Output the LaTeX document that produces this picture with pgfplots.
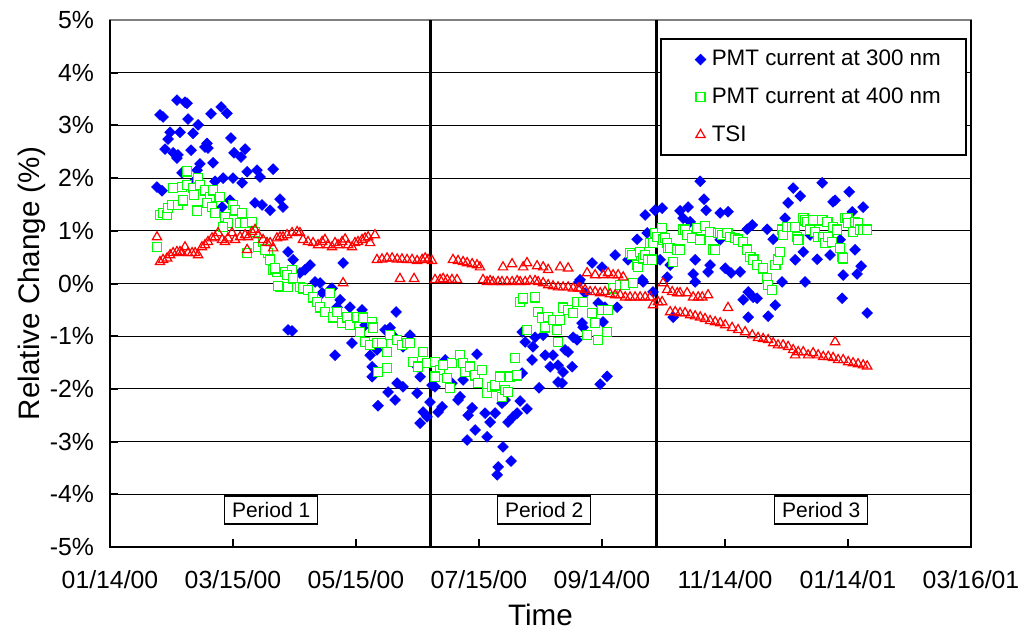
\documentclass[border=0pt]{standalone}
\usepackage{pgfplots}
\pgfplotsset{compat=1.18}
\usepackage{fontspec}
\setmainfont{Liberation Sans}

% x = days since 01/14/00, y = relative change in %
\pgfplotstableread{
x y
33.2 3.48
37.2 3.44
38.2 3.42
24.8 3.20
26.3 3.16
38.7 3.12
55.1 3.35
58.0 3.23
50.1 3.22
43.7 3.01
29.8 2.87
28.8 2.74
34.7 2.87
41.2 2.85
60.0 2.76
48.1 2.66
48.6 2.57
47.1 2.59
27.3 2.55
31.3 2.48
33.7 2.44
33.2 2.38
40.2 2.53
67.0 2.55
61.5 2.48
65.0 2.40
51.1 2.29
44.6 2.27
35.7 2.10
43.2 2.15
80.9 2.17
68.0 2.12
72.9 2.15
74.4 2.02
52.1 1.94
56.1 2.00
61.0 2.00
65.5 1.91
23.3 1.83
25.8 1.76
42.2 1.96
59.5 1.58
71.9 1.53
75.4 1.49
79.4 1.39
84.3 1.60
85.8 1.45
55.6 1.45
88.3 0.60
90.8 0.45
94.2 0.20
96.7 0.26
99.2 0.35
101.7 0.03
104.2 0.01
105.2 -0.18
109.1 -0.12
110.1 -0.09
115.6 0.39
88.3 -0.88
90.3 -0.90
112.6 -0.45
119.0 -0.45
125.0 -0.50
111.6 -1.36
120.0 -1.13
129.0 -1.36
132.4 -1.26
130.0 -1.58
130.0 -1.77
141.9 -0.54
138.9 -0.84
148.8 -0.98
132.9 -2.32
137.9 -2.06
141.4 -2.21
142.4 -1.89
145.3 -1.96
152.3 -2.08
155.3 -2.44
157.2 -2.53
153.8 -2.65
158.7 -2.25
152.3 -1.58
153.8 -1.77
159.7 -1.93
114.1 -0.31
121.5 -0.65
126.5 -0.79
136.4 -0.88
141.4 -1.03
145.3 -1.20
161.2 -1.96
162.7 -2.44
164.7 -2.34
166.2 -1.45
169.6 -1.89
172.6 -2.21
173.6 -2.15
175.1 -1.83
182.0 -1.34
177.6 -2.50
179.6 -2.36
181.1 -2.78
177.1 -2.97
186.0 -2.46
187.0 -2.91
188.5 -2.63
191.0 -2.46
192.5 -3.48
192.0 -3.63
194.9 -3.10
198.9 -3.37
194.4 -2.27
195.9 -2.21
197.4 -2.63
199.9 -2.53
201.9 -2.46
203.4 -2.23
206.8 -2.38
204.4 -1.70
209.3 -1.45
212.8 -1.98
205.9 -1.11
209.8 -1.20
210.8 -1.02
214.8 -0.98
215.8 -1.36
218.3 -1.58
219.7 -1.36
222.2 -1.55
224.7 -1.68
222.2 -1.87
224.2 -1.89
225.7 -1.26
227.2 -1.30
229.2 -1.58
229.7 -1.02
231.6 -1.07
232.6 0.03
204.4 -0.92
234.1 -0.75
234.6 -0.83
233.1 0.07
235.6 -0.18
239.1 0.39
244.0 0.31
250.5 0.54
242.1 -0.37
245.5 -0.45
244.5 -0.73
251.5 -0.45
243.1 -1.91
246.5 -1.76
256.9 0.45
261.4 0.84
266.4 0.96
265.4 1.30
263.9 0.07
264.4 0.03
269.3 -0.16
270.3 1.39
273.8 1.43
272.8 0.45
276.3 0.12
277.8 0.35
279.3 -0.64
282.7 1.38
284.2 1.24
286.7 1.45
287.7 1.17
290.2 0.45
289.2 0.18
290.2 0.03
292.7 1.94
294.6 1.60
295.6 1.39
297.6 0.35
296.6 0.22
302.6 1.34
306.5 1.36
305.1 0.29
308.0 0.20
312.5 0.22
316.0 1.03
318.5 1.11
325.9 1.03
328.9 0.84
314.0 -0.31
316.5 -0.16
319.0 -0.26
320.9 -0.28
316.5 -0.64
326.4 -0.62
329.9 -0.41
333.3 0.03
334.8 1.24
336.3 1.53
338.8 1.81
342.3 1.66
339.8 0.45
343.8 0.60
344.7 0.03
350.7 0.46
353.2 1.91
358.6 1.55
359.6 1.58
366.6 1.74
373.5 1.45
368.1 1.36
357.1 0.54
363.6 0.16
363.1 -0.28
369.5 0.64
370.5 0.18
372.5 0.33
375.5 -0.56
302.6 0.83
347.2 0.92
362.1 0.83
}\pmtthree

\pgfplotstableread{
x y
23.3 0.69
24.8 1.30
26.3 1.34
28.3 1.30
28.8 1.43
30.8 1.49
33.7 1.49
31.3 1.81
35.7 1.83
38.2 1.87
36.2 1.58
38.2 2.13
41.2 1.81
43.7 2.00
44.6 1.87
41.7 1.68
43.2 1.38
47.1 1.77
49.6 1.64
51.1 1.77
48.1 1.53
50.6 1.45
52.1 1.34
54.6 1.64
57.0 1.26
58.5 1.15
61.0 1.49
62.0 1.39
65.5 1.34
64.5 1.15
67.0 1.15
70.4 1.17
56.1 1.07
68.0 0.58
73.4 0.69
75.9 0.79
78.4 0.58
79.4 0.45
80.9 0.26
82.8 0.22
84.3 -0.07
86.8 0.22
88.3 -0.07
71.9 0.98
76.9 0.64
81.8 0.29
90.3 0.26
87.8 0.16
83.3 -0.05
90.8 0.10
94.2 -0.07
95.7 -0.09
98.2 -0.12
100.7 -0.26
102.7 -0.35
104.2 -0.45
106.6 -0.54
109.1 -0.18
110.6 -0.64
112.6 -0.54
115.1 -0.75
117.6 -0.64
119.0 -0.79
122.5 -0.64
124.0 -0.92
125.5 -0.65
130.0 -0.73
130.5 -0.84
126.5 -1.11
129.0 -1.17
132.4 -1.13
134.9 -1.13
137.4 -1.30
138.9 -0.98
142.4 -1.07
144.8 -1.17
147.3 -1.13
148.8 -1.13
132.9 -1.68
137.4 -1.60
155.3 -1.30
150.3 -1.49
152.8 -1.58
157.2 -1.51
161.2 -1.49
163.7 -1.64
165.2 -1.55
167.2 -1.79
161.2 -1.77
168.7 -1.98
169.6 -1.51
173.6 -1.36
175.1 -1.51
176.1 -1.68
178.6 -1.58
181.1 -1.74
182.5 -1.89
184.5 -1.64
187.0 -2.08
189.5 -1.96
191.0 -1.93
193.5 -1.77
194.4 -2.15
195.9 -2.02
197.4 -2.06
198.4 -1.77
200.9 -1.41
201.9 -1.74
203.4 -0.35
204.9 -0.28
206.8 -0.88
210.8 -0.26
212.3 -0.54
214.3 -0.65
215.8 -0.83
217.3 -0.64
219.7 -0.69
221.7 -0.88
222.2 -1.11
223.2 -0.69
224.7 -0.46
227.2 -0.50
229.7 -0.56
231.6 -0.35
234.6 -0.35
236.6 -0.98
239.1 -0.56
240.6 -0.75
242.1 -1.07
244.0 -0.50
246.5 -0.92
247.0 -0.50
249.5 -0.09
253.0 -0.03
255.5 -0.03
257.9 0.58
258.9 0.54
259.4 0.01
261.4 0.35
261.9 0.31
262.9 0.60
264.4 0.48
265.4 0.54
266.9 0.45
267.9 0.77
268.8 0.45
269.3 0.77
270.3 0.96
271.3 0.88
273.8 1.05
274.3 0.83
275.3 0.86
276.3 0.77
276.8 0.67
277.8 0.67
279.3 0.41
281.3 0.64
282.7 0.64
284.2 1.02
285.2 1.02
286.2 0.92
288.7 0.86
291.2 1.05
292.7 0.83
295.1 1.09
297.6 0.98
299.1 0.64
300.1 0.64
301.6 0.96
302.6 0.96
303.6 0.92
306.1 0.96
307.5 0.88
310.0 0.86
311.5 0.83
314.0 0.79
316.0 0.64
317.5 0.50
319.0 0.45
320.9 0.35
323.9 0.29
325.9 0.10
326.4 -0.03
328.4 -0.12
329.9 0.35
331.3 0.45
332.3 0.60
333.3 1.02
333.8 0.92
335.8 1.07
338.3 1.07
339.8 1.07
340.8 0.88
341.3 0.83
343.8 1.24
344.7 1.20
345.7 1.17
347.2 1.02
348.7 1.20
349.7 0.98
351.2 0.88
353.2 1.20
353.7 0.88
354.7 0.77
355.7 1.17
356.2 0.88
358.1 0.79
358.6 1.07
360.6 1.02
362.1 0.67
363.1 0.50
363.6 0.48
364.6 1.24
365.6 1.24
366.1 1.15
368.5 0.98
369.5 1.17
371.0 1.15
372.0 1.02
373.5 1.02
375.5 1.02
}\pmtfour

\pgfplotstableread{
x y
23.3 0.88
24.8 0.41
26.3 0.45
28.3 0.48
29.8 0.54
31.3 0.58
33.2 0.60
34.7 0.60
35.7 0.58
37.2 0.69
38.7 0.58
40.7 0.58
42.2 0.58
43.7 0.54
45.6 0.69
47.1 0.73
48.6 0.79
50.6 0.86
52.1 0.88
53.6 0.96
55.6 0.83
57.0 0.79
58.5 0.86
60.5 0.96
62.0 0.83
64.5 0.88
67.0 0.92
68.5 0.88
70.4 0.98
71.9 1.02
73.4 0.92
75.9 0.83
77.9 0.77
79.4 0.77
80.9 0.67
82.8 0.86
84.3 0.88
85.8 0.88
87.8 0.92
68.0 0.64
90.3 0.96
92.8 0.98
94.2 0.96
95.7 0.83
98.2 0.79
100.7 0.77
103.2 0.73
105.2 0.79
106.6 0.83
108.1 0.73
110.1 0.69
111.6 0.77
113.1 0.73
115.1 0.79
116.6 0.84
118.1 0.73
120.0 0.69
121.5 0.77
123.0 0.79
125.0 0.83
126.5 0.86
128.0 0.88
129.0 0.77
131.4 0.92
115.6 0.01
132.4 0.45
134.9 0.46
137.4 0.48
139.9 0.48
142.4 0.46
144.8 0.46
147.3 0.45
149.8 0.45
152.3 0.43
154.8 0.45
156.3 0.48
157.7 0.45
159.7 0.43
143.8 0.09
150.8 0.09
161.2 0.07
163.7 0.07
165.2 0.09
167.2 0.07
169.6 0.07
172.1 0.07
170.1 0.45
172.6 0.43
175.1 0.41
177.1 0.39
179.6 0.37
182.0 0.35
183.5 0.31
185.0 0.07
187.0 0.03
188.5 0.05
190.0 0.03
192.5 0.03
194.4 0.03
196.9 0.03
199.4 0.03
201.9 0.05
203.4 0.03
205.9 0.03
208.3 0.05
210.8 0.05
212.3 0.03
214.8 0.01
217.3 -0.03
219.7 -0.05
222.2 -0.07
224.7 -0.07
227.2 -0.07
229.7 -0.09
232.1 -0.09
194.9 0.31
199.4 0.37
204.9 0.31
206.8 0.39
211.8 0.33
214.8 0.31
217.3 0.26
223.2 0.31
227.2 0.29
236.6 0.20
240.6 0.16
244.5 0.16
247.0 0.20
249.5 0.16
252.0 0.16
254.5 0.12
233.1 -0.09
235.6 -0.12
238.1 -0.16
240.6 -0.16
243.1 -0.18
245.5 -0.16
248.0 -0.20
250.5 -0.22
253.0 -0.22
255.5 -0.26
257.9 -0.26
260.4 -0.26
262.9 -0.26
265.4 -0.26
267.9 -0.26
269.3 -0.41
271.8 -0.35
273.8 -0.35
274.3 0.01
276.3 -0.12
278.8 -0.16
281.3 -0.18
282.7 -0.18
286.2 -0.18
289.2 -0.26
291.7 -0.26
293.7 -0.26
296.6 -0.22
277.8 -0.54
280.3 -0.54
282.7 -0.56
285.2 -0.56
287.7 -0.60
290.2 -0.62
292.7 -0.64
295.1 -0.67
297.6 -0.71
300.1 -0.73
302.6 -0.75
305.1 -0.79
306.5 -0.46
308.5 -0.84
311.5 -0.88
315.0 -0.92
318.5 -0.98
321.4 -1.03
323.9 -1.05
326.4 -1.07
328.9 -1.13
331.3 -1.17
333.8 -1.17
336.3 -1.20
338.8 -1.26
339.8 -1.36
341.3 -1.30
343.8 -1.30
346.2 -1.36
348.7 -1.32
351.2 -1.36
353.7 -1.39
356.2 -1.39
358.6 -1.41
359.6 -1.11
361.1 -1.45
363.6 -1.45
366.1 -1.49
368.5 -1.51
371.0 -1.53
373.5 -1.55
375.5 -1.57
}\tsi

\begin{document}
\begin{tikzpicture}
\begin{axis}[
  at={(0,0)}, anchor=south west,
  scale only axis, width=430.5pt, height=263.5pt,
  xmin=0, xmax=427, ymin=-5, ymax=5,
  xtick={0,61,...,427},
  xticklabels={01/14/00,03/15/00,05/15/00,07/15/00,09/14/00,11/14/00,01/14/01,03/16/01},
  ytick={-5,...,5},
  yticklabels={-5\%,-4\%,-3\%,-2\%,-1\%,0\%,1\%,2\%,3\%,4\%,5\%},
  xtick pos=bottom, ytick pos=left,
  ymajorgrids, major grid style={black, line width=0.5pt},
  tick style={black, line width=1pt}, tick align=inside, major tick length=4pt,
  axis line style={gray, line width=0.6pt},
  ticklabel style={font=\fontsize{12.4}{14}\selectfont},
  xticklabel style={yshift=-8pt},
  yticklabel style={xshift=-4.5pt},
  xlabel={Time}, ylabel={Relative Change (\%)},
  label style={font=\fontsize{14.8}{17}\selectfont},
  xlabel style={at={(axis description cs:0.5,-0.129)}, anchor=center},
  ylabel style={at={(axis description cs:-0.0906,0.5)}, anchor=center},
  clip=false,
  legend cell align=left,
  legend image code/.code={\draw[mark repeat=2,mark phase=2,#1] plot coordinates {(0cm,0cm) (0.15cm,0cm) (0.3cm,0cm)}; \path (-4.5pt,0pt) (7.3pt,0pt);},
  legend style={at={(rel axis cs:0.9954,0.9658)}, anchor=north east, draw=black, line width=1.2pt,
    font=\fontsize{11.2}{13}\selectfont, row sep=5.5pt, inner xsep=10.5pt, inner ysep=3.5pt, fill=white},
]
\addplot[only marks, blue, mark=square*, mark size=1.9pt, mark options={rotate=45, fill=blue, draw=blue, line width=0.3pt}] table {\pmtthree};
\addlegendentry{PMT current at 300 nm}
\addplot[only marks, green, mark=square*, mark size=2.3pt, mark options={fill=white, draw=green, line width=0.7pt}] table {\pmtfour};
\addlegendentry{PMT current at 400 nm}
\addplot[only marks, red, mark=triangle, mark size=2.7pt, mark options={draw=red, line width=0.6pt}] table {\tsi};
\addlegendentry{TSI}
\draw[line width=1.5pt] (axis cs:159,-5) -- (axis cs:159,5);
\draw[line width=1.5pt] (axis cs:271,-5) -- (axis cs:271,5);
\draw[line width=1.2pt] (rel axis cs:0,1) -- (rel axis cs:0,0) -- (rel axis cs:1,0) -- (rel axis cs:1,1);
\node[draw=black, line width=0.8pt, fill=white, font=\fontsize{10.5}{12}\selectfont, minimum width=46.5pt, minimum height=14pt, inner sep=2pt] at (axis cs:79.9,-4.30) {Period 1};
\node[draw=black, line width=0.8pt, fill=white, font=\fontsize{10.5}{12}\selectfont, minimum width=46.5pt, minimum height=14pt, inner sep=2pt] at (axis cs:215.3,-4.30) {Period 2};
\node[draw=black, line width=0.8pt, fill=white, font=\fontsize{10.5}{12}\selectfont, minimum width=46.5pt, minimum height=14pt, inner sep=2pt] at (axis cs:352.7,-4.30) {Period 3};
\end{axis}
\pgfresetboundingbox
\path (-55pt,-41pt) rectangle (455.5pt,273.5pt);
\end{tikzpicture}
\end{document}
